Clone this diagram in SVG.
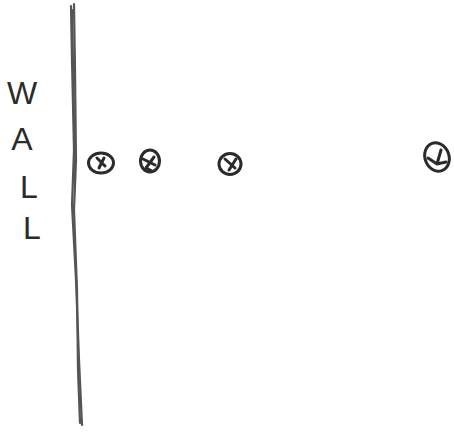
<svg xmlns="http://www.w3.org/2000/svg" width="454" height="436" viewBox="0 0 454 436">
<style>
.ink{fill:none;stroke:#2b2b2b;stroke-width:3;stroke-linecap:round;stroke-linejoin:round}
.wall{fill:none;stroke:#555555;stroke-width:2.2;stroke-linecap:round;stroke-linejoin:round}
.lbl{font-family:"Liberation Sans",Arial,sans-serif;font-size:32px;fill:#2b2b2b;text-anchor:middle}
</style>
<rect width="454" height="436" fill="#ffffff"/>
<g id="wall">
<path class="wall" d="M71 6 L72 60 L74 150 L72 205 L76 280 L79 360 L82 425"/>
<path class="wall" d="M74 4 L75 70 L76 160 L74 210 L77 290 L78 370 L80 423"/>
<path class="wall" d="M72 10 L74 120 L75 180"/>
</g>
<g id="wall-label">
<text class="lbl" x="22" y="104">W</text>
<text class="lbl" x="22" y="150">A</text>
<text class="lbl" x="29" y="198">L</text>
<text class="lbl" x="32" y="239">L</text>
</g>
<g id="marker1">
<ellipse class="ink" cx="101" cy="163" rx="12.5" ry="10"/>
<path class="ink" d="M97 158 L105 166 M104 158 L99 168"/>
</g>
<g id="marker2">
<ellipse class="ink" cx="150" cy="161" rx="9.5" ry="11"/>
<path class="ink" d="M143 159 L155 165 M154 157 L146 168 M146 168 L152 171"/>
</g>
<g id="marker3">
<ellipse class="ink" cx="230" cy="164" rx="11" ry="10.5"/>
<path class="ink" d="M225 159 L235 168 M236 159 L229 170"/>
</g>
<g id="marker4">
<ellipse class="ink" cx="437" cy="157" rx="12" ry="14.5" transform="rotate(-20 437 157)"/>
<path class="ink" d="M428 158 L437 164 L446 162 M437 164 L441 150"/>
</g>
<g id="connectors"></g>
</svg>
